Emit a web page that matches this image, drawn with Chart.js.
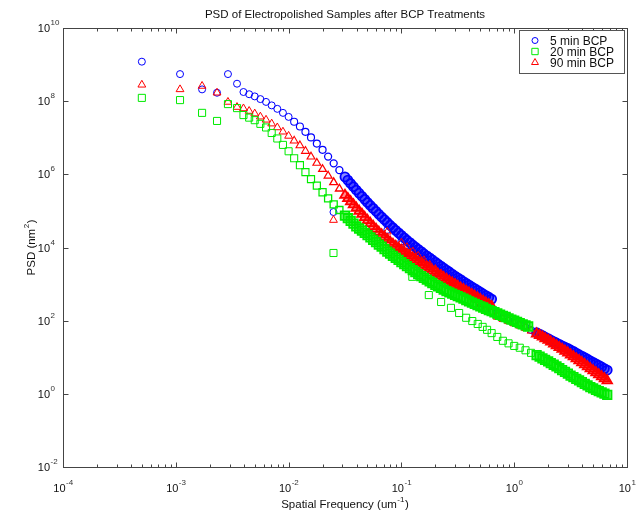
<!DOCTYPE html>
<html><head><meta charset="utf-8">
<script src="https://cdn.jsdelivr.net/npm/chart.js@4.4.1/dist/chart.umd.min.js"></script>
<style>html,body{margin:0;padding:0;background:#fff;}canvas{display:block;}</style>
</head><body>
<canvas id="c" width="640" height="515"></canvas>
<script>
// ---- data (spatial frequency in um^-1, PSD in nm^2) ----
const seriesNames = ['5 min BCP', '20 min BCP', '90 min BCP'];

// long-scan segment frequencies
const freqLong = [5.0e-4, 1.09e-3, 1.71e-3, 2.32e-3, 2.90e-3, 3.49e-3,
  3.98e-3, 4.47e-3, 5.01e-3, 5.62e-3, 6.31e-3, 7.08e-3, 7.94e-3, 8.91e-3,
  1.00e-2, 1.12e-2, 1.26e-2, 1.41e-2, 1.58e-2, 1.78e-2, 2.00e-2, 2.24e-2, 2.51e-2, 2.82e-2, 3.16e-2,
  3.35e-2, 3.55e-2, 3.76e-2, 3.98e-2, 4.22e-2, 4.47e-2, 4.73e-2, 5.01e-2, 5.31e-2, 5.62e-2,
  5.96e-2, 6.31e-2, 6.68e-2, 7.08e-2, 7.50e-2, 7.94e-2, 8.41e-2, 8.91e-2, 9.44e-2,
  0.100, 0.106, 0.112, 0.119, 0.126, 0.133, 0.141, 0.150, 0.158, 0.168,
  0.178, 0.188, 0.200, 0.211, 0.224, 0.237, 0.251, 0.266, 0.282, 0.299,
  0.316, 0.335, 0.355, 0.376, 0.398, 0.422, 0.447, 0.473, 0.501, 0.531,
  0.562, 0.596, 0.631,
  0.668, 0.708, 0.750, 0.794, 0.841, 0.891, 0.944, 1.00, 1.06, 1.12, 1.19, 1.26, 1.33];

const psd5Long = [1.2e9, 5.5e8, 2.1e8, 1.7e8, 5.5e8, 3.0e8,
  1.78e8, 1.55e8, 1.35e8, 1.14e8, 9.55e7, 7.67e7, 6.17e7, 4.79e7, 3.72e7, 2.75e7,
  2.04e7, 1.45e7, 1.02e7, 6.92e6, 4.68e6, 3.05e6, 2.00e6, 1.30e6, 8.51e5,
  6.92e5, 5.62e5, 4.57e5, 3.72e5, 3.05e5, 2.51e5, 2.07e5, 1.70e5, 1.41e5, 1.17e5,
  9.77e4, 8.13e4, 6.84e4, 5.75e4, 4.84e4, 4.07e4, 3.47e4, 2.95e4, 2.51e4,
  2.14e4, 1.84e4, 1.58e4, 1.36e4, 1.17e4, 1.02e4, 8.91e3, 7.76e3, 6.76e3, 5.89e3,
  5.19e3, 4.57e3, 3.98e3, 3.51e3, 3.09e3, 2.72e3, 2.40e3, 2.14e3, 1.88e3, 1.66e3,
  1.48e3, 1.32e3, 1.17e3, 1.05e3, 933, 832, 750, 676, 603, 537, 484, 437, 389];

const psd20Long = [1.23e8, 1.07e8, 4.79e7, 2.88e7, 8.32e7, 6.46e7,
  4.17e7, 3.55e7, 3.02e7, 2.40e7, 1.91e7, 1.35e7, 9.55e6, 6.38e6, 4.27e6, 2.75e6,
  1.78e6, 1.15e6, 7.41e5, 4.90e5, 3.24e5, 2.21e5, 1.51e5, 1.06e5, 7.41e4,
  6.31e4, 5.31e4, 4.47e4, 3.80e4, 3.31e4, 2.88e4, 2.51e4, 2.19e4, 1.88e4, 1.62e4,
  1.40e4, 1.20e4, 1.05e4, 9.02e3, 7.76e3, 6.76e3, 5.89e3, 5.19e3, 4.57e3,
  3.98e3, 3.51e3, 3.09e3, 2.72e3, 2.40e3, 2.14e3, 1.88e3, 1.66e3, 1.48e3, 1.32e3,
  1.19e3, 1.07e3, 955, 871, 785, 708, 646, 596, 550, 507,
  468, 432, 398, 367, 339, 313, 288, 266, 245, 229, 211, 195, 182,
  170, 157, 145, 135, 126, 116, 107, 100, 93.3, 86.1, 79.4, 74.1, 69.2];

const psd90Long = [2.8e8, 2.1e8, 2.6e8, 1.7e8, 9.5e7, 6.9e7,
  6.31e7, 5.37e7, 4.57e7, 3.76e7, 3.09e7, 2.43e7, 1.91e7, 1.46e7, 1.12e7, 8.32e6,
  6.17e6, 4.32e6, 3.02e6, 2.04e6, 1.38e6, 9.12e5, 6.03e5, 4.03e5, 2.69e5,
  2.19e5, 1.80e5, 1.48e5, 1.20e5, 9.89e4, 8.13e4, 6.68e4, 5.50e4, 4.57e4, 3.80e4,
  3.16e4, 2.63e4, 2.24e4, 1.93e4, 1.66e4, 1.41e4, 1.23e4, 1.08e4, 9.55e3,
  8.32e3, 7.41e3, 6.61e3, 5.89e3, 5.25e3, 4.68e3, 4.17e3, 3.72e3, 3.31e3, 2.95e3,
  2.63e3, 2.34e3, 2.09e3, 1.86e3, 1.68e3, 1.51e3, 1.35e3, 1.20e3, 1.08e3, 977,
  871, 785, 708, 638, 575, 519, 468, 422, 380, 339, 305, 275, 245];

// short-scan segment frequencies
const freqShort = [0.025, 0.075,
  0.100, 0.112, 0.126, 0.141, 0.158, 0.178, 0.200, 0.224, 0.251, 0.282,
  0.316, 0.355, 0.398, 0.447, 0.501, 0.562, 0.631, 0.708, 0.794, 0.891,
  1.00, 1.12, 1.26, 1.41, 1.58,
  1.68, 1.78, 1.88, 2.00, 2.11, 2.24, 2.37, 2.51, 2.66, 2.82,
  2.99, 3.16, 3.35, 3.55, 3.76, 3.98, 4.22, 4.47, 4.73, 5.01,
  5.31, 5.62, 5.96, 6.31, 6.68];

const psd5Short = [9.33e4, 3.02e4,
  1.48e4, 1.12e4, 8.51e3, 6.46e3, 4.90e3, 3.63e3, 2.75e3, 2.09e3, 1.58e3, 1.20e3,
  891, 676, 513, 389, 295, 219, 166, 140, 117, 102,
  89.1, 76.7, 66.1, 55.6, 46.8,
  42.7, 38.9, 35.5, 32.4, 29.5, 26.9, 24.5, 22.4, 20.4, 18.8,
  17.4, 15.8, 14.5, 13.0, 11.7, 10.7, 9.77, 8.81, 7.94, 7.24,
  6.61, 6.03, 5.43, 4.90, 4.47];

const psd90Short = [5.62e4, 2.69e4,
  1.35e4, 1.02e4, 7.76e3, 5.89e3, 4.47e3, 3.39e3, 2.57e3, 1.95e3, 1.48e3, 1.12e3,
  851, 646, 490, 372, 282, 214, 162, 126, 110, 95.5,
  83.2, 72.4, 61.7, 52.5, 43.7,
  39.8, 35.9, 32.4, 29.2, 26.3, 23.4, 20.9, 18.6, 16.6, 14.8,
  13.2, 11.7, 10.4, 9.12, 8.13, 7.16, 6.31, 5.56, 4.90, 4.32,
  3.80, 3.35, 2.95, 2.60, 2.29];

const freqShort20 = [0.025, 0.125, 0.175, 0.225, 0.275, 0.325, 0.375, 0.425, 0.475, 0.525, 0.575,
  0.631, 0.708, 0.794, 0.891, 1.00, 1.12, 1.26, 1.41, 1.58,
  1.68, 1.78, 1.88, 2.00, 2.11, 2.24, 2.37, 2.51, 2.66, 2.82,
  2.99, 3.16, 3.35, 3.55, 3.76, 3.98, 4.22, 4.47, 4.73, 5.01,
  5.31, 5.62, 5.96, 6.31, 6.68];

const psd20Short = [7.08e3, 1.58e3, 501, 324, 224, 162, 120, 97.7, 81.3, 67.6, 56.2,
  45.7, 35.9, 28.2, 24.0, 20.4, 18.2, 15.5, 13.2, 11.4,
  10.4, 9.33, 8.51, 7.67, 6.92, 6.24, 5.62, 5.01, 4.47, 3.98,
  3.55, 3.16, 2.85, 2.57, 2.32, 2.09, 1.88, 1.70, 1.53, 1.41,
  1.29, 1.19, 1.10, 1.01, 0.933];

// axis decades
const xDecades = [-4, -3, -2, -1, 0, 1];
const yDecades = [-2, 0, 2, 4, 6, 8, 10];

const titleText = 'PSD of Electropolished Samples after BCP Treatments';
const xTitle = ['Spatial Frequency (um', '-1', ')'];
const yTitle = ['PSD (nm', '2', ')'];

// ---- build chart ----
const pts = (xs, ys) => ys.map((v, i) => ({x: xs[i], y: v}));
const FONT = '"Liberation Sans", Arial, Helvetica, sans-serif';

// where the measured points crowd together (closely spaced frequencies) the markers merge into a band
function isDense(c) {
  const d = c.dataset.data, i = c.dataIndex, p = d[i];
  if (!p) return false;
  const q = d[i - 1], n = d[i + 1];
  let r = 99;
  if (q && p.x > q.x) r = Math.min(r, p.x / q.x);
  if (n && n.x > p.x) r = Math.min(r, n.x / p.x);
  return r < 1.07;
}
function chainWeight(c) {
  const ds = c.dataset, i = c.dataIndex, p = ds.data[i];
  if (!p || i >= ds.longLen || p.x <= 0.01) return 0;
  return Math.min(1, (Math.log10(p.x) + 2) / 0.5);
}

function makeSet(label, longPart, shortPart, style, radius, rgb, order) {
  return {
    label, order, showLine: false, pointStyle: style,
    data: longPart.concat(shortPart), longLen: longPart.length,
    legendRadius: radius, color: 'rgb(' + rgb + ')',
    pointRadius: c => isDense(c) ? radius + 1 : radius,
    pointBorderWidth: c => isDense(c) ? 1.8 : 1 + 0.4 * chainWeight(c),
    pointBorderColor: 'rgb(' + rgb + ')',
    pointBackgroundColor: c => isDense(c) ? 'rgba(' + rgb + ',0.45)' : 'rgba(0,0,0,0)'
  };
}

const datasets = [
  makeSet(seriesNames[0], pts(freqLong, psd5Long), pts(freqShort, psd5Short), 'circle', 3.5, '0,0,255', 3),
  makeSet(seriesNames[1], pts(freqLong, psd20Long), pts(freqShort20, psd20Short), 'rect', 5, '0,235,0', 1),
  makeSet(seriesNames[2], pts(freqLong, psd90Long), pts(freqShort, psd90Short), 'triangle', 4.5, '255,0,0', 2)
];

function powLabel(ctx, exp, x, y, mode) {
  ctx.font = '11px ' + FONT;
  const wb = ctx.measureText('10').width;
  ctx.font = '8px ' + FONT;
  const we = ctx.measureText(String(exp)).width;
  const start = mode === 'center' ? x - (wb + we) / 2 : x - wb;
  ctx.textAlign = 'left';
  ctx.font = '11px ' + FONT;
  ctx.fillStyle = '#111';
  ctx.fillText('10', start, y);
  ctx.font = '8px ' + FONT;
  ctx.fillStyle = '#333';
  ctx.fillText(String(exp), start + wb + 0.5, y - 7);
}

function supText(ctx, parts, cx, y) {
  ctx.font = '11.5px ' + FONT;
  const w0 = ctx.measureText(parts[0]).width;
  const w2 = ctx.measureText(parts[2]).width;
  ctx.font = '8px ' + FONT;
  const w1 = ctx.measureText(parts[1]).width;
  const s = cx - (w0 + w1 + w2 + 1) / 2;
  ctx.textAlign = 'left';
  ctx.fillStyle = '#111';
  ctx.font = '11.5px ' + FONT;
  ctx.fillText(parts[0], s, y);
  ctx.font = '8px ' + FONT;
  ctx.fillText(parts[1], s + w0 + 0.5, y - 6);
  ctx.font = '11.5px ' + FONT;
  ctx.fillText(parts[2], s + w0 + w1 + 1, y);
}

function marker(ctx, style, r, x, y) {
  ctx.beginPath();
  if (style === 'circle') ctx.arc(x, y, r, 0, Math.PI * 2);
  else if (style === 'rect') { const s = r * Math.SQRT1_2; ctx.rect(x - s, y - s, 2 * s, 2 * s); }
  else {
    for (let k = 0; k < 3; k++) {
      const a = k * 2 * Math.PI / 3;
      const px = x + Math.sin(a) * r, py = y - Math.cos(a) * r;
      if (k === 0) ctx.moveTo(px, py); else ctx.lineTo(px, py);
    }
    ctx.closePath();
  }
  ctx.stroke();
}

const framePlugin = {
  id: 'framePlugin',
  beforeDraw(chart) {
    const ctx = chart.ctx;
    ctx.save();
    ctx.fillStyle = '#fff';
    ctx.fillRect(0, 0, chart.width, chart.height);
    ctx.restore();
  },
  afterDatasetsDraw(chart) {
    const {ctx, chartArea: a} = chart;
    const xs = chart.scales.x, ys = chart.scales.y;
    ctx.save();
    ctx.strokeStyle = '#444';
    ctx.lineWidth = 1;
    const L = Math.round(a.left) + 0.5, R = Math.round(a.right) + 0.5;
    const T = Math.round(a.top) + 0.5, B = Math.round(a.bottom) + 0.5;
    ctx.strokeRect(L, T, R - L, B - T);
    ctx.beginPath();
    for (let e = xDecades[0]; e < xDecades[xDecades.length - 1]; e++) {
      for (let k = 1; k <= 9; k++) {
        const px = Math.round(xs.getPixelForValue(k * Math.pow(10, e))) + 0.5;
        const len = k === 1 ? 5 : 3;
        ctx.moveTo(px, B); ctx.lineTo(px, B - len);
        ctx.moveTo(px, T); ctx.lineTo(px, T + len);
      }
    }
    yDecades.forEach(e => {
      const py = Math.round(ys.getPixelForValue(Math.pow(10, e))) + 0.5;
      ctx.moveTo(L, py); ctx.lineTo(L + 5, py);
      ctx.moveTo(R, py); ctx.lineTo(R - 5, py);
    });
    ctx.stroke();

    ctx.textBaseline = 'alphabetic';
    xDecades.forEach(e => powLabel(ctx, e, xs.getPixelForValue(Math.pow(10, e)), 492, 'center'));
    yDecades.forEach(e => powLabel(ctx, e, 50, ys.getPixelForValue(Math.pow(10, e)) + 4, 'right'));

    ctx.font = '11.5px ' + FONT;
    ctx.fillStyle = '#111';
    ctx.textAlign = 'center';
    ctx.fillText(titleText, (a.left + a.right) / 2, 18);
    supText(ctx, xTitle, (a.left + a.right) / 2, 508);
    ctx.save();
    ctx.translate(35, (a.top + a.bottom) / 2);
    ctx.rotate(-Math.PI / 2);
    supText(ctx, yTitle, 0, 0);
    ctx.restore();

    // legend
    const lx0 = 519, ly0 = 30, lx1 = 624, ly1 = 73;
    ctx.fillStyle = '#fff';
    ctx.fillRect(lx0, ly0, lx1 - lx0, ly1 - ly0);
    ctx.strokeStyle = '#555';
    ctx.strokeRect(lx0 + 0.5, ly0 + 0.5, lx1 - lx0, ly1 - ly0);
    chart.data.datasets.forEach((ds, i) => {
      const yy = 40.5 + i * 11;
      ctx.strokeStyle = ds.color;
      ctx.lineWidth = 1;
      marker(ctx, ds.pointStyle, ds.legendRadius - 0.5, 535, yy);
      ctx.fillStyle = '#111';
      ctx.font = '12px ' + FONT;
      ctx.textAlign = 'left';
      ctx.fillText(ds.label, 550, yy + 4);
    });
    ctx.restore();
  }
};

new Chart(document.getElementById('c'), {
  type: 'scatter',
  data: {datasets},
  options: {
    responsive: false,
    animation: false,
    events: [],
    layout: {padding: {left: 63, right: 13, top: 28, bottom: 48}},
    scales: {
      x: {type: 'logarithmic', min: 1e-4, max: 10, display: false},
      y: {type: 'logarithmic', min: 1e-2, max: 1e10, display: false}
    },
    plugins: {legend: {display: false}, tooltip: {enabled: false}, title: {display: false}}
  },
  plugins: [framePlugin]
});
</script>
</body></html>
